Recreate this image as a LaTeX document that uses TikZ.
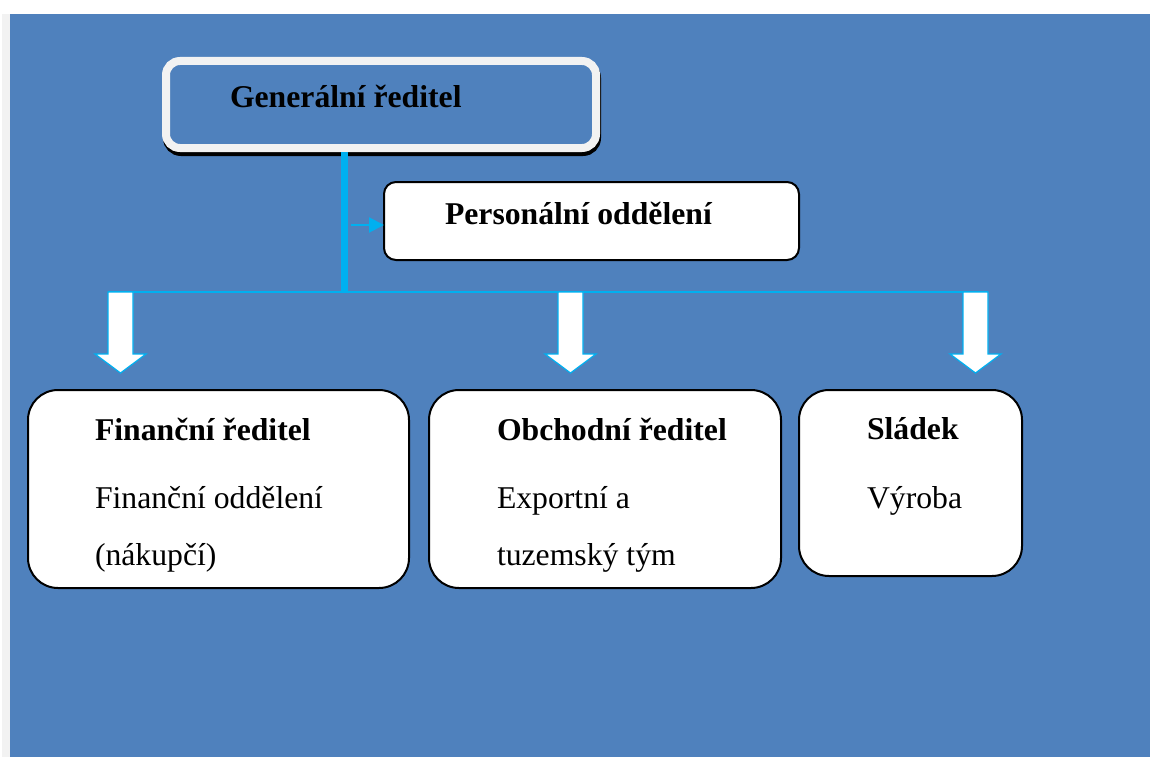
\documentclass[tikz,border=0pt]{standalone}
\usepackage{fontspec}
\setmainfont{Liberation Serif}
\usetikzlibrary{arrows.meta}
\definecolor{sheet}{HTML}{4F81BD}
\definecolor{wire}{HTML}{00B0F0}
\definecolor{rim}{HTML}{F2F2F2}
\definecolor{shade}{HTML}{41699E}
\begin{document}
\begin{tikzpicture}[x=1pt,y=-1pt,
  every node/.style={inner sep=0pt,outer sep=0pt},
  box/.style={draw=black,line width=2pt,fill=white,rounded corners=30pt,anchor=north west},
  topbox/.style={draw=rim,line width=8pt,fill=sheet,rounded corners=14pt,anchor=north west,outer sep=4pt},
  head/.style={anchor=base west,font=\fontsize{31.7}{38}\selectfont\bfseries},
  entry/.style={anchor=base west,font=\fontsize{31.7}{38}\selectfont},
  trunk/.style={draw=wire,line width=7pt},
  bus/.style={draw=wire,line width=2.5pt},
  blockarrow/.style={draw=wire,line width=1.2pt,fill=white}]
\useasboundingbox (0,0) rectangle (1150,757);
\fill[white] (0,0) rectangle (1150,757);
\fill[rim] (2,14) rectangle (10,757);
\fill[sheet] (10,14) rectangle (1150,757);

% general director
\draw[shade,line width=8pt,rounded corners=14pt] (167,64) rectangle (597,152);
\node[topbox,minimum width=430pt,minimum height=87pt] (gen) at (162,57) {};
\node[head] (genT) at (230,108) {Generální ředitel};

% personnel
\node[box,rounded corners=12pt,minimum width=415pt,minimum height=78pt] (pers) at (384,182) {};
\node[head] (persT) at (445,224) {Personální oddělení};

% lines
\coordinate (hub) at (344.5,292);
\coordinate (tap) at (351,225);
\coordinate (finTop) at (120.5,292);
\coordinate (obchTop) at (570.5,292);
\coordinate (slaTop) at (975.5,292);
\draw[trunk] (gen.south -| hub) -- (hub);
\draw[wire,line width=2pt,-{Triangle[length=15pt,width=15pt]}] (tap) -- (tap -| pers.west);
\draw[bus] ([xshift=-12.5pt]finTop) -- ([xshift=12.5pt]slaTop);
\draw[blockarrow] (finTop) ++(-12.5,0) -- ++(25,0) -- ++(0,62) -- ++(13,0) -- ++(-25.5,19) -- ++(-25.5,-19) -- ++(13,0) -- cycle;
\draw[blockarrow] (obchTop) ++(-12.5,0) -- ++(25,0) -- ++(0,62) -- ++(13,0) -- ++(-25.5,19) -- ++(-25.5,-19) -- ++(13,0) -- cycle;
\draw[blockarrow] (slaTop) ++(-12.5,0) -- ++(25,0) -- ++(0,62) -- ++(13,0) -- ++(-25.5,19) -- ++(-25.5,-19) -- ++(13,0) -- cycle;

% finance
\node[box,minimum width=381pt,minimum height=198pt] (fin) at (28,390) {};
\node[head] (finT) at (95,440) {Finanční ředitel};
\node[entry] (finA) at (95,508) {Finanční oddělení};
\node[entry] (finB) at (95,565) {(nákupčí)};

% sales
\node[box,minimum width=352pt,minimum height=198pt] (obch) at (429,390) {};
\node[head] (obchT) at (497,440) {Obchodní ředitel};
\node[entry] (obchA) at (497,508) {Exportní a};
\node[entry] (obchB) at (497,565) {tuzemský tým};

% brewer
\node[box,minimum width=223pt,minimum height=186pt] (sla) at (799,390) {};
\node[head] (slaT) at (867,439) {Sládek};
\node[entry] (slaA) at (867,508) {Výroba};
\end{tikzpicture}
\end{document}
